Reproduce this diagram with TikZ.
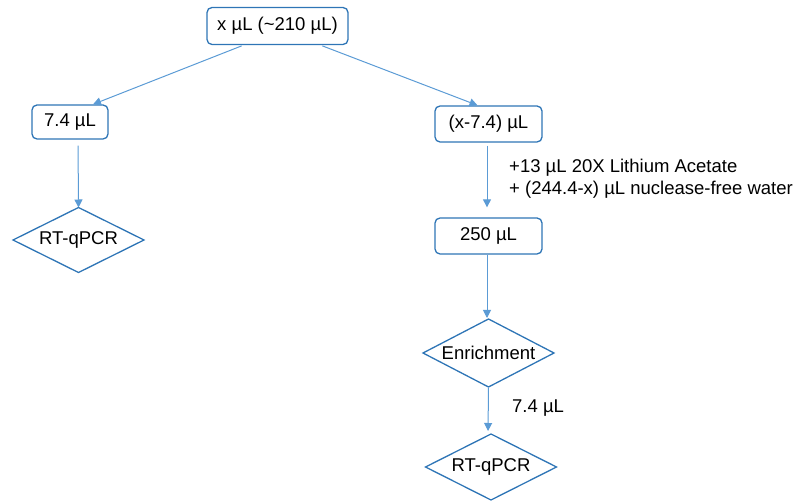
\documentclass[tikz,border=0pt]{standalone}
\usepackage{fontspec}
\setmainfont{Liberation Sans}
\usetikzlibrary{arrows.meta}
\definecolor{boxblue}{RGB}{46,117,182}
\definecolor{arrowblue}{RGB}{91,155,213}
\tikzset{
  txt/.style={font=\fontsize{18.5}{22}\selectfont, text=black},
  rbox/.style={txt, draw=boxblue, line width=1.3pt, rounded corners=5pt, inner sep=0pt},
  dline/.style={draw=boxblue, line width=1.3pt, line join=miter},
  arr/.style={draw=arrowblue, line width=1pt, -{Triangle[length=8pt,width=8pt]}},
}
% diamond: name, center, half width, half height, text
\newcommand{\mydiamond}[5]{%
  \node[txt, inner sep=0pt] (#1) at (#2) {#5};
  \coordinate (#1-n) at ([yshift=#4]#1.center);
  \coordinate (#1-s) at ([yshift=-#4]#1.center);
  \coordinate (#1-e) at ([xshift=#3]#1.center);
  \coordinate (#1-w) at ([xshift=-#3]#1.center);
  \draw[dline] (#1-n) -- (#1-e) -- (#1-s) -- (#1-w) -- cycle;
}
\begin{document}
\begin{tikzpicture}[x=1pt,y=-1pt]
\useasboundingbox (0,0) rectangle (809,502);
\node[rbox, minimum width=141pt, minimum height=37pt] (top) at (277.5,26) {x µL (\textasciitilde 210 µL)};
\node[rbox, minimum width=76pt, minimum height=34pt] (a74) at (70,122) {7.4 µL};
\mydiamond{rt1}{78.5,240}{65.5pt}{32.5pt}{RT-qPCR}
\node[rbox, minimum width=107pt, minimum height=36pt] (xm) at (488.5,124) {(x-7.4) µL};
\node[rbox, minimum width=107pt, minimum height=36pt] (b250) at (488.5,236) {250 µL};
\mydiamond{enr}{488.5,353}{65.5pt}{34pt}{Enrichment}
\mydiamond{rt2}{491,467}{65.5pt}{33pt}{RT-qPCR}
\node[txt, anchor=west, align=left, inner sep=0pt] (lab1) at (509,179) {+13 µL 20X Lithium Acetate\\+ (244.4-x) µL nuclease-free water};
\node[txt, anchor=west, inner sep=0pt] (lab2) at (512,408) {7.4 µL};
\draw[arr, shorten <=2pt] ([xshift=-34pt]top.south) -- ([xshift=23pt]a74.north);
\draw[arr, shorten <=2pt] ([xshift=43pt]top.south) -- ([xshift=-11pt]xm.north);
\draw[arr, shorten <=6pt] ([xshift=8pt]a74.south) -- (rt1-n);
\draw[arr, shorten <=3pt, shorten >=10pt] ([xshift=-1.5pt]xm.south) -- ([xshift=-1.5pt]b250.north);
\draw[arr, shorten >=1pt] ([xshift=-1.5pt]b250.south) -- ([xshift=-1.5pt]enr-n);
\draw[arr, shorten <=1pt, shorten >=3pt] (enr-s) -- ([xshift=-3pt]rt2-n);
\end{tikzpicture}
\end{document}
